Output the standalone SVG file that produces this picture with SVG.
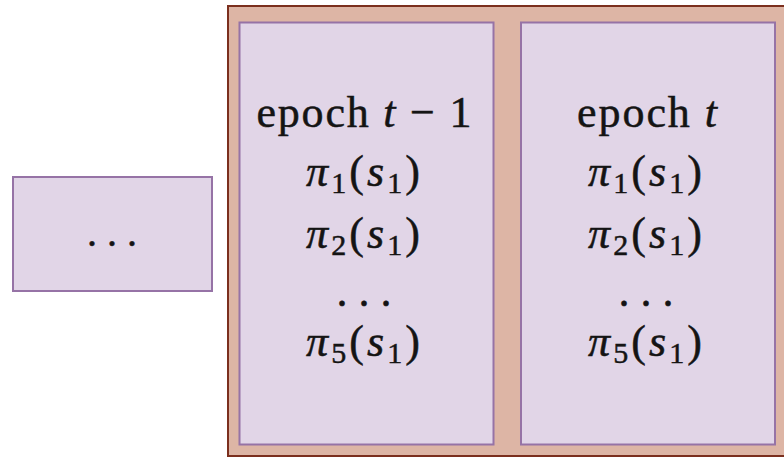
<svg xmlns="http://www.w3.org/2000/svg" width="784" height="458" viewBox="0 0 784 458">
  <style>
    .box { fill: #e1d5e7; stroke: #9673a6; stroke-width: 2; }
    .frame { fill: #ddb5a5; stroke: #7b2f1e; stroke-width: 2; }
    .t { font-family: "Liberation Serif", "Times New Roman", serif; font-size: 44px; fill: #141414; stroke: #141414; stroke-width: 0.5; text-anchor: middle; }
    .i { font-style: italic; }
    .sub { font-size: 30px; }
  </style>
  <rect width="784" height="458" fill="#ffffff"/>

  <!-- earlier epochs -->
  <g id="earlier">
    <rect class="box" x="13" y="177" width="199" height="114"/>
    <text class="t" x="112" y="246" style="font-size:40px">. . .</text>
  </g>

  <!-- container holding the two latest epochs -->
  <g id="epochs">
    <rect class="frame" x="228" y="6" width="570" height="450"/>
  </g>

  <g id="epoch-prev">
    <rect class="box" x="239.5" y="22.5" width="254" height="422"/>
    <text class="t" x="364" y="127" textLength="215" lengthAdjust="spacing">epoch <tspan class="i">t</tspan> − 1</text>
    <text class="t" x="363" y="186" textLength="114" lengthAdjust="spacing"><tspan class="i">π</tspan><tspan class="sub" dy="7">1</tspan><tspan dy="-7">(</tspan><tspan class="i">s</tspan><tspan class="sub" dy="7">1</tspan><tspan dy="-7">)</tspan></text>
    <text class="t" x="363" y="248" textLength="114" lengthAdjust="spacing"><tspan class="i">π</tspan><tspan class="sub" dy="7">2</tspan><tspan dy="-7">(</tspan><tspan class="i">s</tspan><tspan class="sub" dy="7">1</tspan><tspan dy="-7">)</tspan></text>
    <text class="t" x="364" y="306">. . .</text>
    <text class="t" x="363" y="356" textLength="114" lengthAdjust="spacing"><tspan class="i">π</tspan><tspan class="sub" dy="7">5</tspan><tspan dy="-7">(</tspan><tspan class="i">s</tspan><tspan class="sub" dy="7">1</tspan><tspan dy="-7">)</tspan></text>
  </g>

  <g id="epoch-cur">
    <rect class="box" x="521" y="22.5" width="254" height="422"/>
    <text class="t" x="647" y="127" textLength="140" lengthAdjust="spacing">epoch <tspan class="i">t</tspan></text>
    <text class="t" x="645" y="186" textLength="114" lengthAdjust="spacing"><tspan class="i">π</tspan><tspan class="sub" dy="7">1</tspan><tspan dy="-7">(</tspan><tspan class="i">s</tspan><tspan class="sub" dy="7">1</tspan><tspan dy="-7">)</tspan></text>
    <text class="t" x="645" y="248" textLength="114" lengthAdjust="spacing"><tspan class="i">π</tspan><tspan class="sub" dy="7">2</tspan><tspan dy="-7">(</tspan><tspan class="i">s</tspan><tspan class="sub" dy="7">1</tspan><tspan dy="-7">)</tspan></text>
    <text class="t" x="646" y="306">. . .</text>
    <text class="t" x="645" y="356" textLength="114" lengthAdjust="spacing"><tspan class="i">π</tspan><tspan class="sub" dy="7">5</tspan><tspan dy="-7">(</tspan><tspan class="i">s</tspan><tspan class="sub" dy="7">1</tspan><tspan dy="-7">)</tspan></text>
  </g>
</svg>
